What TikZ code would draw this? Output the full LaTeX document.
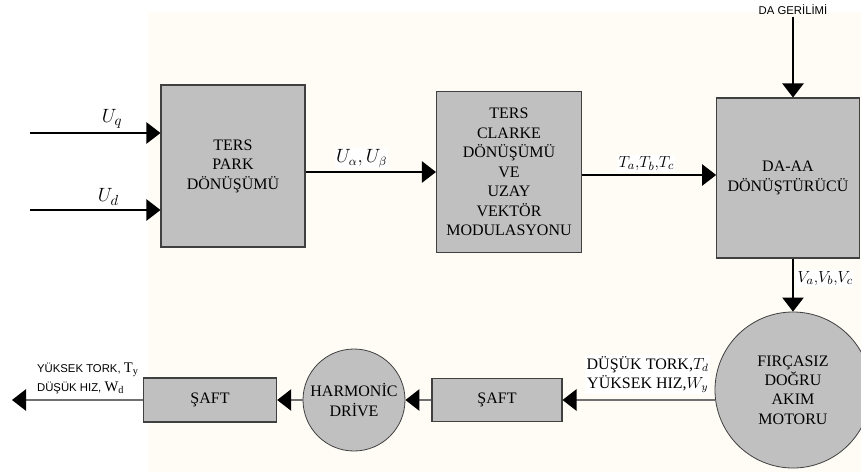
\documentclass[tikz,border=0pt]{standalone}
\usepackage{fontspec}
\setmainfont{Liberation Serif}
\setsansfont{Liberation Sans}
\usetikzlibrary{arrows.meta, positioning}

\definecolor{cream}{HTML}{FFFBF5}
\definecolor{boxgray}{HTML}{C0C0C0}
\definecolor{edgegray}{HTML}{404040}
\definecolor{linegray}{HTML}{707070}

\tikzset{
  block/.style={draw=edgegray, fill=boxgray, line width=0.8pt, align=center,
    inner sep=0pt, font=\fontsize{12}{14.6}\selectfont},
  roundblock/.style={block, circle, line width=0.6pt},
  sig/.style={-{Triangle[length=10.5pt, width=16pt, color=black]}, line width=0.8pt},
  shaft/.style={sig, draw=linegray, line width=1.3pt},
  lbl/.style={font=\fontsize{15}{16}\selectfont, inner sep=1pt, fill=white},
  smalllbl/.style={font=\sffamily\fontsize{8.5}{14}\selectfont, inner sep=1pt}
}

\begin{document}
\begin{tikzpicture}[x=0.75pt, y=-0.75pt]

    %canvas
    \useasboundingbox (0,0) rectangle (861,472);
    \fill[cream] (148,12) rectangle (861,472);

    %define blocks
    \node[block, minimum width=108pt, minimum height=121.5pt] (park) at (233,166)
        {TERS\\PARK\\DÖNÜŞÜMÜ};
    \node[block, minimum width=108.75pt, minimum height=120.75pt] (clarke) at (509,172)
        {TERS\\CLARKE\\DÖNÜŞÜMÜ\\VE\\UZAY\\VEKTÖR\\MODULASYONU};
    \node[block, minimum width=107pt, minimum height=120pt] (daaa) at (788,178)
        {DA-AA\\DÖNÜŞTÜRÜCÜ};
    \node[roundblock, minimum size=117pt] (motor) at (793,390)
        {FIRÇASIZ\\DOĞRU\\AKIM\\MOTORU};
    \node[block, minimum width=97.5pt, minimum height=32.25pt] (saft2) at (497,400) {ŞAFT};
    \node[roundblock, minimum size=76.5pt] (harm) at (354,400) {HARMONİC\\DRİVE};
    \node[block, minimum width=100pt, minimum height=33pt] (saft1) at (210,400) {ŞAFT};

    %free ends
    \node[smalllbl] (dclabel) at (793,10) {DA GERİLİMİ};
    \coordinate (uqin) at (30,133);
    \coordinate (udin) at (30,210);
    \coordinate (out) at (12,400);

    %define the links
    \draw[sig] (uqin) -- (uqin -| park.west) node[lbl, pos=0.63, above=2pt] {$U_q$};
    \draw[sig] (udin) -- (udin -| park.west) node[lbl, pos=0.6, above=2pt] {$U_d$};
    \draw[sig] (clarke.west -| park.east) -- (clarke.west)
        node[lbl, pos=0.43, above=2pt, font=\fontsize{13.5}{15}\selectfont] {$U_\alpha, U_\beta$};
    \draw[sig] (clarke.east |- 0,175) -- (daaa.west |- 0,175)
        node[lbl, pos=0.48, above=2pt, font=\fontsize{13}{15}\selectfont] {$T_a{,}T_b{,}T_c$};
    \draw[sig] (dclabel) -- (dclabel |- daaa.north);
    \draw[sig] (motor.north |- daaa.south) -- (motor.north)
        node[lbl, pos=0.37, right=2pt, font=\fontsize{13}{15}\selectfont] {$V_a{,}V_b{,}V_c$};
    \draw[shaft] (saft2.east -| motor.west) -- (saft2.east)
        node[lbl, pos=0.44, above=4pt, align=center, font=\fontsize{12}{14}\selectfont]
        {DÜŞÜK TORK,$T_d$\\YÜKSEK HIZ,$W_y$};
    \draw[shaft] (saft2.west) -- (harm.east);
    \draw[shaft] (harm.west) -- (saft1.east);
    \draw[shaft] (saft1.west) -- (out)
        node[smalllbl, pos=0.42, above=3pt, align=left]
        {YÜKSEK TORK, {\rmfamily\fontsize{11}{14}\selectfont T\textsubscript{y}}\\
         DÜŞÜK HIZ, {\rmfamily\fontsize{11}{14}\selectfont W\textsubscript{d}}};

\end{tikzpicture}
\end{document}
